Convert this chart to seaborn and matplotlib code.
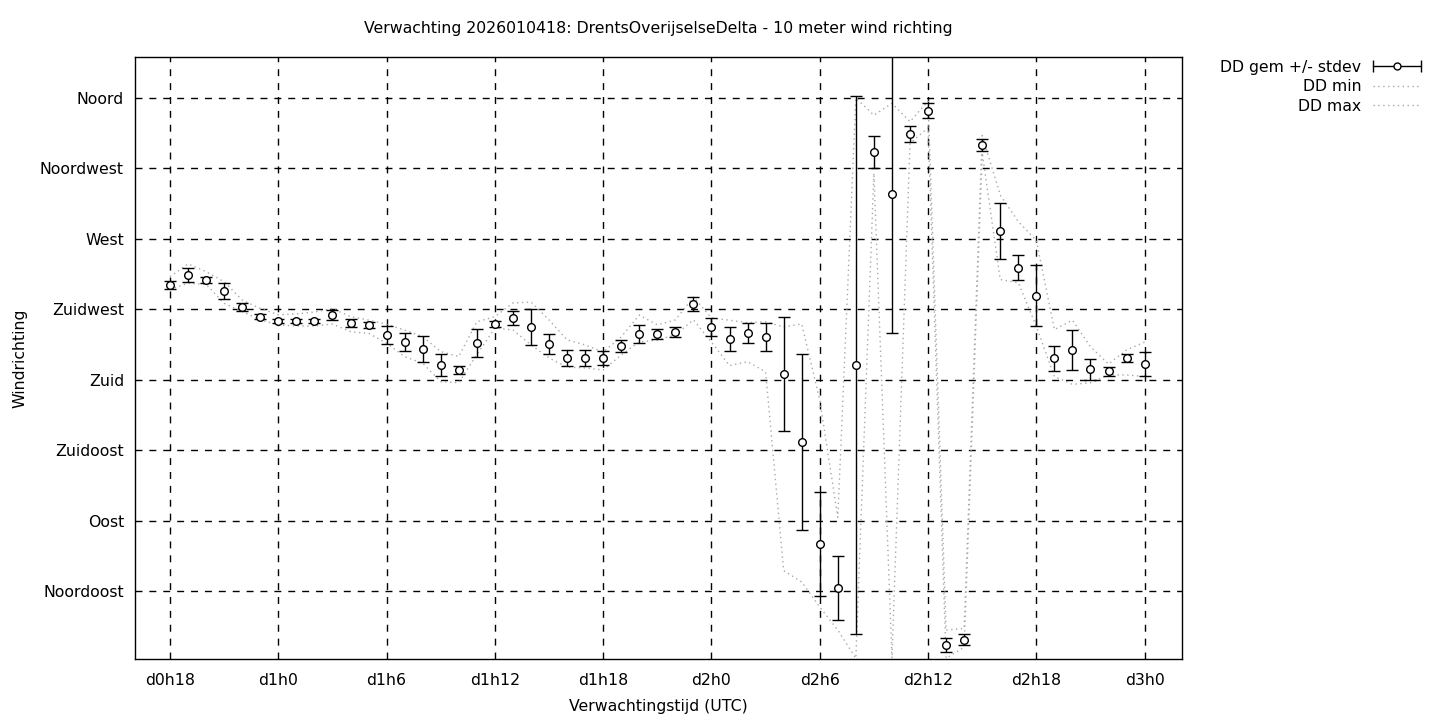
import numpy as np
import matplotlib
matplotlib.use("Agg")
import matplotlib.pyplot as plt
import seaborn as sns
from matplotlib.legend_handler import HandlerBase
from matplotlib.lines import Line2D

# forecast hours since d0h0, one value per hour
hours = list(range(18, 73))

dd_mean = [240.5, 246.9, 243.7, 236.7, 226.5, 220.1, 217.5, 217.5, 217.5, 221.3,
           216.2, 214.9, 208.5, 204.1, 199.6, 189.4, 186.2, 203.4, 215.6, 219.4,
           213.7, 202.8, 193.8, 193.8, 193.8, 201.5, 209.2, 209.2, 210.4, 228.4,
           213.7, 206.0, 209.8, 207.3, 183.6, 140.1, 75.0, 46.9, 189.4, 325.5,
           298.7, 337.0, 351.7, 10.5, 13.7, 330.0, 275.0, 251.4, 233.5, 193.8,
           198.9, 186.8, 185.5, 193.8, 189.9]
dd_std = [2.6, 4.5, 2.0, 5.0, 2.6, 1.6, 1.3, 1.3, 1.3, 3.2,
          2.6, 2.0, 5.8, 5.6, 8.0, 7.0, 2.6, 9.0, 2.0, 4.5,
          11.5, 6.7, 5.0, 5.0, 4.5, 4.0, 5.5, 3.0, 3.0, 4.5,
          5.8, 7.4, 6.1, 8.7, 36.6, 56.0, 33.5, 20.7, 172.0, 10.3,
          89.0, 5.0, 4.8, 4.7, 3.5, 3.8, 17.6, 8.0, 19.5, 8.0,
          13.0, 6.7, 2.9, 2.6, 7.7]
dd_min = [237.8, 241.6, 240.9, 228.8, 223.5, 218.2, 215.0, 214.3, 214.3, 215.6,
          210.7, 209.6, 203.3, 194.7, 190.5, 178.7, 178.1, 196.0, 213.0, 211.8,
          202.2, 193.9, 188.0, 187.5, 186.2, 195.8, 204.1, 205.4, 208.6, 218.2,
          204.0, 189.0, 191.5, 185.0, 58.0, 50.7, 34.7, 20.0, 2.0, 312.0,
          2.0, 331.0, 341.0, 2.0, 9.0, 325.0, 244.0, 242.0, 214.0, 182.0,
          177.0, 178.0, 183.0, 183.0, 182.0]
dd_max = [245.8, 254.0, 249.0, 242.6, 230.8, 225.5, 221.5, 222.0, 223.2, 225.5,
          220.3, 218.1, 215.4, 211.7, 207.5, 198.0, 194.8, 217.0, 220.3, 229.0,
          229.6, 218.2, 205.4, 202.2, 197.7, 207.3, 221.3, 215.0, 218.2, 232.8,
          219.4, 218.0, 216.4, 217.0, 213.7, 215.6, 167.0, 92.0, 360.0, 349.0,
          356.6, 344.9, 358.0, 20.0, 21.0, 336.0, 298.0, 281.0, 269.0, 212.0,
          218.0, 201.0, 190.0, 199.0, 204.0]

dir_ticks = [45, 90, 135, 180, 225, 270, 315, 360]
dir_labels = ["Noordoost", "Oost", "Zuidoost", "Zuid", "Zuidwest", "West", "Noordwest", "Noord"]
time_ticks = list(range(18, 73, 6))
time_labels = ["d%dh%d" % (h // 24, h % 24) for h in time_ticks]


class HandlerBarSample(HandlerBase):
    # gnuplot style key sample: |---o---|
    def create_artists(self, legend, orig_handle, xdescent, ydescent,
                       width, height, fontsize, trans):
        y = height / 2 - ydescent
        x0, x1 = -xdescent, width - xdescent
        line = Line2D([x0, x1], [y, y], color="black", lw=1.0, transform=trans)
        caps = Line2D([x0, x1], [y, y], color="black", lw=0, marker="|",
                      markersize=8, markeredgewidth=1.0, transform=trans)
        dot = Line2D([(x0 + x1) / 2], [y], color="black", lw=0, marker="o",
                     markersize=5, markerfacecolor="white", markeredgewidth=1.0,
                     transform=trans)
        return [line, caps, dot]


sns.set_style("white")
plt.rcParams["font.family"] = ["DejaVu Sans"]
plt.rcParams["font.size"] = 11.3
plt.rcParams["text.color"] = "black"
plt.rcParams["axes.labelcolor"] = "black"
plt.rcParams["xtick.color"] = "black"
plt.rcParams["ytick.color"] = "black"

fig = plt.figure(figsize=(14.4, 7.2), dpi=100)
ax = fig.add_axes([135 / 1440, 1 - 659 / 720, (1182 - 135) / 1440, (659 - 57) / 720])

sns.lineplot(x=hours, y=dd_min, ax=ax, color="#a8a8a8", lw=1.0,
             dashes=False, sort=False, label="DD min", legend=False)
sns.lineplot(x=hours, y=dd_max, ax=ax, color="#a8a8a8", lw=1.0,
             dashes=False, sort=False, label="DD max", legend=False)
for ln in ax.get_lines()[-2:]:
    ln.set_linestyle((0, (1, 2.5)))

eb = ax.errorbar(hours, dd_mean, yerr=dd_std, fmt="o", color="black",
                 markersize=5.5, markerfacecolor="white", markeredgewidth=1.0,
                 elinewidth=1.0, capsize=4, capthick=1.0, label="DD gem +/- stdev",
                 zorder=5)
if ax.get_legend() is not None:
    ax.get_legend().remove()

ax.set_xlim(16.06, 74.07)
ax.set_ylim(1.5, 386.2)
ax.set_xticks(time_ticks)
ax.set_xticklabels(time_labels)
ax.set_yticks(dir_ticks)
ax.set_yticklabels(dir_labels)
ax.grid(True, color="black", linestyle=(0, (5, 5)), linewidth=1.0)
ax.tick_params(axis="x", direction="in", length=0, pad=10)
ax.tick_params(axis="y", direction="in", length=0, pad=8)
for sp in ax.spines.values():
    sp.set_color("black")
    sp.set_linewidth(1.0)

ax.set_title("Verwachting 2026010418: DrentsOverijselseDelta - 10 meter wind richting",
             fontsize=11.3, pad=17)
ax.set_xlabel("Verwachtingstijd (UTC)", labelpad=8)
ax.set_ylabel("Windrichting", labelpad=9)

handles, labels = ax.get_legend_handles_labels()
order = [labels.index("DD gem +/- stdev"), labels.index("DD min"), labels.index("DD max")]
leg = fig.legend([handles[i] for i in order], [labels[i] for i in order],
                 loc="upper right", bbox_to_anchor=(1429 / 1440, 1 - 52 / 720),
                 frameon=False, markerfirst=False, borderpad=0, handlelength=3.1,
                 handletextpad=0.7, labelspacing=0.28,
                 handler_map={type(eb): HandlerBarSample()})
# right-align the key texts like gnuplot does
for col in leg._legend_handle_box.get_children():
    col.align = "right"

fig.savefig("out.png", dpi=100)
